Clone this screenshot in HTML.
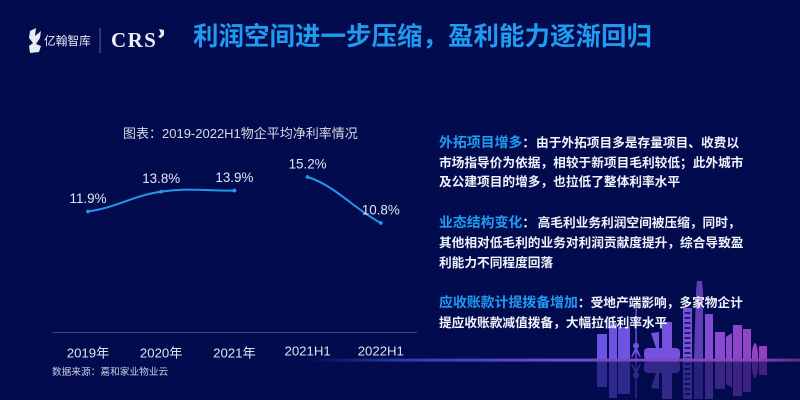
<!DOCTYPE html>
<html lang="zh-CN">
<head>
<meta charset="utf-8">
<title>利润空间进一步压缩，盈利能力逐渐回归</title>
<style>
  html, body { margin: 0; padding: 0; }
  body { width: 800px; height: 400px; overflow: hidden; background: #020b4e; position: relative;
    font-family: "Liberation Sans", "Noto Sans CJK SC", sans-serif; }
  .t { position: absolute; white-space: nowrap; line-height: 1; }
  .body-line { color: #f1f3fb; font-size: 12.7px; font-weight: 700; left: 439px; }
  .hd { color: #1f9bf0; font-size: 13.9px; font-weight: 700; }
  #stage { position: absolute; left: 0; top: 0; width: 800px; height: 400px; overflow: hidden; }
</style>
</head>
<body>

<svg id="stage" width="800" height="400" viewBox="0 0 800 400">
  <defs>
    <linearGradient id="bld" x1="597" x2="767" y1="0" y2="0" gradientUnits="userSpaceOnUse">
      <stop offset="0" stop-color="#6a54e4"/>
      <stop offset="0.55" stop-color="#7a50da"/>
      <stop offset="1" stop-color="#9a3fbc"/>
    </linearGradient>
    <linearGradient id="base" x1="305" x2="800" y1="0" y2="0" gradientUnits="userSpaceOnUse">
      <stop offset="0" stop-color="#2a3fb0" stop-opacity="0"/>
      <stop offset="0.2" stop-color="#2c3cae"/>
      <stop offset="0.5" stop-color="#6a4ccc"/>
      <stop offset="0.9" stop-color="#8c42bc"/>
      <stop offset="1" stop-color="#5a2a8a"/>
    </linearGradient>
  </defs>

  <g fill="url(#bld)">
    <rect x="597" y="334" width="10" height="26"/>
    <rect x="609" y="323" width="8" height="37"/>
    <rect x="618" y="327" width="12" height="33"/>
    <rect x="635.4" y="308" width="1.4" height="52"/>
    <circle cx="636" cy="345.7" r="3"/>
    <path d="M631 357 L635 348 L637 348 L641 357 L639.5 357 L636 351 L632.5 357 Z"/>
    <path d="M651 333 L659 332 L659 357 Z"/>
    <rect x="662" y="322" width="10" height="30"/>
    <rect x="644" y="348" width="36" height="12" rx="4"/>
    <rect x="683" y="308" width="9" height="52"/>
    <path d="M694 360 L696 292 L697 281 L702 281 L703 292 L703 360 Z" opacity="0.75"/>
    <rect x="705" y="314" width="8" height="46"/>
    <rect x="715" y="332" width="10" height="28"/>
    <path d="M726 337 L732 333 L732 360 L726 360 Z"/>
    <rect x="733" y="325" width="9" height="35"/>
    <rect x="743" y="329" width="8" height="31"/>
    <path d="M752 352 Q755 334 758 352 L758 360 L752 360 Z"/>
    <rect x="759" y="346" width="8" height="14"/>
    <line x1="687.5" x2="687.5" y1="312" y2="358" stroke="#020b4e" stroke-width="6" stroke-dasharray="2 3" opacity="0.75"/>
  </g>

  <g fill="url(#bld)" opacity="0.42">
    <rect x="597" y="361" width="10" height="26"/>
    <rect x="609" y="361" width="8" height="37"/>
    <rect x="618" y="361" width="12" height="33"/>
    <rect x="635.4" y="361" width="1.4" height="38"/>
    <circle cx="636" cy="375.3" r="3"/>
    <path d="M631 364 L635 373 L637 373 L641 364 L639.5 364 L636 370 L632.5 364 Z"/>
    <path d="M651 388 L659 389 L659 364 Z"/>
    <rect x="662" y="369" width="10" height="30"/>
    <rect x="644" y="361" width="36" height="12" rx="4"/>
    <rect x="683" y="361" width="9" height="38"/>
    <rect x="694" y="361" width="9" height="38" opacity="0.75"/>
    <rect x="705" y="361" width="8" height="38"/>
    <rect x="715" y="361" width="10" height="28"/>
    <path d="M726 384 L732 388 L732 361 L726 361 Z"/>
    <rect x="733" y="361" width="9" height="35"/>
    <rect x="743" y="361" width="8" height="31"/>
    <path d="M752 369 Q755 387 758 369 L758 361 L752 361 Z"/>
    <rect x="759" y="361" width="8" height="14"/>
    <line x1="687.5" x2="687.5" y1="363" y2="398" stroke="#020b4e" stroke-width="6" stroke-dasharray="2 3" opacity="0.75"/>
  </g>
  <rect x="305" y="358.6" width="495" height="3" fill="url(#base)"/>

  <g fill="#e8eaf2">
    <path d="M30 31 L36 28 L35 36 L41 31 L40 38 L36 44 L41 46 L39 52 L30 53 L29 46 L33 43 L29 38 Z"/>
  </g>
  <path d="M159 29 L164 30 L164 35 L161 38 L158 37 L161 34 Z" fill="#e8eaf2"/>
  <rect x="99.6" y="28" width="1" height="25" fill="#5c6490"/>

  <line x1="52" x2="417" y1="332.5" y2="332.5" stroke="#3a4487" stroke-width="1"/>
  <g id="plot"></g>
</svg>

<div class="t" style="left:44px;top:35.5px;font-size:11.7px;color:#e8eaf2;">亿翰智库</div>
<div class="t" style="left:111px;top:30px;font-size:21px;font-weight:700;color:#eef0f6;font-family:'Liberation Serif',serif;letter-spacing:1.4px;">CRS</div>
<div class="t" style="left:193px;top:25px;font-size:25.5px;font-weight:700;color:#1f9bf0;">利润空间进一步压缩，盈利能力逐渐回归</div>

<div class="t" style="left:123px;top:127px;font-size:13px;color:#d6d9e6;">图表：2019-2022H1物企平均净利率情况</div>

<div class="t body-line" style="top:136px;"><span class="hd">外拓项目增多</span>：<span style="margin-left:1px">由于外拓项目多是存量项目、收费以</span></div>
<div class="t body-line" style="top:157px;">市场指导价为依据，相较于新项目毛利较低；此外城市</div>
<div class="t body-line" style="top:176px;">及公建项目的增多，也拉低了整体利率水平</div>

<div class="t body-line" style="top:216px;"><span class="hd">业态结构变化</span>：&thinsp;高毛利业务利润空间被压缩，同时，</div>
<div class="t body-line" style="top:237px;">其他相对低毛利的业务对利润贡献度提升，综合导致盈</div>
<div class="t body-line" style="top:257px;">利能力不同程度回落</div>

<div class="t body-line" style="top:296px;"><span class="hd">应收账款计提拨备增加</span>：受地产端影响，多家物企计</div>
<div class="t body-line" style="top:317px;">提应收账款减值拨备，大幅拉低利率水平</div>

<div class="t" style="left:52px;top:368px;font-size:9.7px;color:#c9cde0;">数据来源：嘉和家业物业云</div>

<script>
const categories = ["2019年", "2020年", "2021年", "2021H1", "2022H1"];
const annualValues = [11.9, 13.8, 13.9, null, null];
const halfYearValues = [null, null, null, 15.2, 10.8];
const valueSuffix = "%";

const NS = "http://www.w3.org/2000/svg";
const plot = document.getElementById("plot");

function xScale(i) { return 88 + i * 73.2; }
function yScale(v) { return 177 + (15.2 - v) * 10.45; }

function seriesPoints(values) {
  const pts = [];
  values.forEach(function (v, i) {
    if (v !== null) pts.push({ x: xScale(i), y: yScale(v), v: v });
  });
  return pts;
}

function curvePath(pts) {
  const slopes = [];
  for (let i = 0; i < pts.length - 1; i++) {
    slopes.push((pts[i + 1].y - pts[i].y) / (pts[i + 1].x - pts[i].x));
  }
  const m = pts.map(function (p, i) {
    if (i === 0) return slopes[0] * 0.5;
    if (i === pts.length - 1) return slopes[slopes.length - 1] * 0.85;
    return (slopes[i - 1] + slopes[i]) / 2;
  });
  let d = "M" + pts[0].x + " " + pts[0].y;
  for (let i = 0; i < pts.length - 1; i++) {
    const h = (pts[i + 1].x - pts[i].x) * 0.38;
    d += " C" + (pts[i].x + h) + " " + (pts[i].y + m[i] * h) + " " +
      (pts[i + 1].x - h) + " " + (pts[i + 1].y - m[i + 1] * h) + " " +
      pts[i + 1].x + " " + pts[i + 1].y;
  }
  return d;
}

function drawSeries(values) {
  const pts = seriesPoints(values);
  const line = document.createElementNS(NS, "path");
  line.setAttribute("d", curvePath(pts));
  line.setAttribute("fill", "none");
  line.setAttribute("stroke", "#2596ea");
  line.setAttribute("stroke-width", "2");
  line.setAttribute("stroke-linecap", "round");
  
  
  plot.appendChild(line);

  pts.forEach(function (p) {
    const dot = document.createElementNS(NS, "circle");
    dot.setAttribute("cx", p.x);
    dot.setAttribute("cy", p.y);
    dot.setAttribute("r", "1.9");
    dot.setAttribute("fill", "#2596ea");
    
    
    plot.appendChild(dot);

    const label = document.createElementNS(NS, "text");
    label.setAttribute("x", p.x);
    label.setAttribute("y", p.y - 8.5);
    label.setAttribute("text-anchor", "middle");
    label.setAttribute("font-size", "13.4");
    label.setAttribute("fill", "#e3e6f2");
    label.setAttribute("font-family", "'Liberation Sans', sans-serif");
    label.textContent = p.v.toFixed(1) + valueSuffix;
    
    
    plot.appendChild(label);
  });
}

drawSeries(annualValues);
drawSeries(halfYearValues);

categories.forEach(function (c, i) {
  const tick = document.createElementNS(NS, "text");
  tick.setAttribute("x", xScale(i));
  tick.setAttribute("y", i < 3 ? 357.5 : 355.5);
  tick.setAttribute("text-anchor", "middle");
  tick.setAttribute("font-size", "13.2");
  tick.setAttribute("fill", "#dfe2f0");
  tick.setAttribute("font-family", "'Liberation Sans', 'Noto Sans CJK SC', sans-serif");
  tick.textContent = c;
  
  
  plot.appendChild(tick);
});
</script>
</body>
</html>
